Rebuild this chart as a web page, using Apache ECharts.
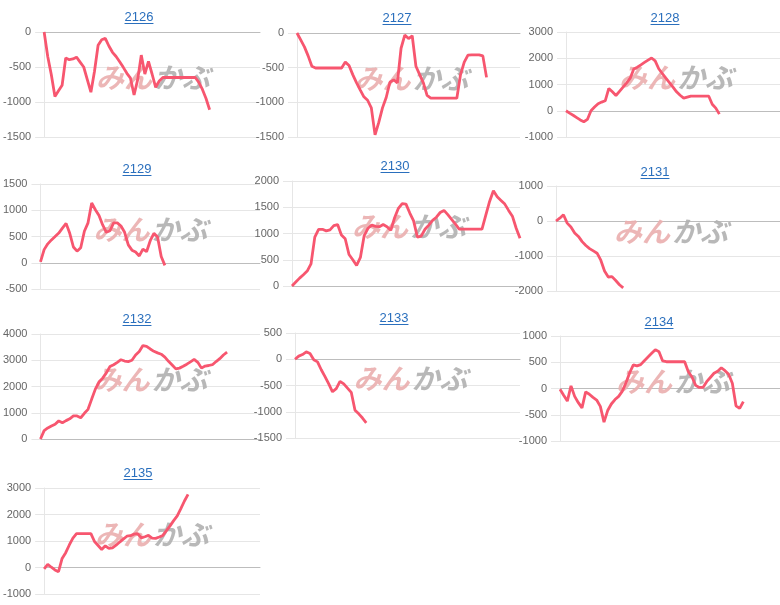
<!DOCTYPE html>
<html>
<head>
<meta charset="utf-8">
<script src="https://cdn.jsdelivr.net/npm/echarts@6/dist/echarts.min.js"></script>
<style>
html, body { margin: 0; padding: 0; background: #fff; }
#chart { width: 780px; height: 605px; }
</style>
</head>
<body>
<div id="chart"></div>
<script>
// Axe des x commun : jours de la période (pas de libellés affichés)
const days = Array.from({ length: 61 }, (_, i) => String(i + 1));

const names = ['2126', '2127', '2128', '2129', '2130', '2131', '2132', '2133', '2134', '2135'];

// Valeurs
const s2126 = [0, -350, -610, -920, -840, -760, -370, -395, -385, -360, -430, -500, -680, -860, -560, -190, -110, -90, -200, -290,
    -350, -425, -505, -590, -660, -900, -680, -330, -600, -420, -600, -790, -700, -650, -650, -650, -650, -650, -650, -650,
    -650, -650, -650, -720, -820, -950, -1110];
const s2127 = [0, -100, -200, -330, -480, -505, -505, -505, -505, -505, -505, -505, -505, -420, -470, -600, -715, -820, -920, -970,
    -1080, -1470, -1290, -1080, -930, -710, -675, -720, -220, -30, -80, -40, -480, -600, -720, -900, -940, -940, -940, -940,
    -940, -940, -940, -940, -600, -420, -320, -315, -315, -315, -330, -640];
const s2128 = [0, -90, -170, -260, -350, -420, -330, 0, 140, 270, 330, 380, 850, 720, 580, 740, 900, 1060, 1240, 1590,
    1660, 1750, 1840, 1930, 2010, 1900, 1600, 1420, 1240, 1070, 900, 720, 590, 480, 520, 560, 560, 560, 560, 560,
    560, 250, 100, -130];
const s2129 = [15, 250, 360, 435, 500, 565, 660, 750, 560, 300, 220, 285, 600, 760, 1140, 1010, 900, 720, 580, 610,
    760, 760, 700, 580, 340, 240, 205, 130, 260, 210, 420, 560, 490, 120, -50];
const s2130 = [0, 75, 150, 215, 285, 420, 930, 1080, 1080, 1050, 1070, 1150, 1170, 970, 900, 600, 500, 390, 545, 960,
    1100, 1160, 1135, 1130, 1170, 1130, 1060, 1300, 1480, 1570, 1560, 1390, 1240, 930, 950, 1080, 1160, 1250, 1310, 1400,
    1440, 1360, 1270, 1180, 1085, 1085, 1085, 1085, 1085, 1085, 1085, 1350, 1610, 1815, 1700, 1630, 1560, 1440, 1330, 1100,
    910];
const s2131 = [0, 80, 180, -60, -170, -340, -440, -590, -700, -790, -855, -920, -1120, -1430, -1600, -1590, -1700, -1820, -1910];
const s2132 = [0, 320, 420, 495, 560, 690, 620, 700, 770, 880, 880, 810, 980, 1130, 1520, 1900, 2170, 2320, 2520, 2760,
    2830, 2920, 3020, 2970, 2950, 3000, 3200, 3330, 3560, 3530, 3430, 3340, 3280, 3230, 3120, 2960, 2820, 2670, 2700, 2770,
    2850, 2940, 3035, 2920, 2700, 2780, 2800, 2830, 2950, 3060, 3200, 3310];
const s2133 = [0, 60, 90, 140, 110, -10, -50, -200, -330, -470, -620, -560, -420, -470, -550, -630, -970, -1040, -1120, -1210];
const s2134 = [-15, -130, -240, 50, -150, -270, -370, -65, -110, -170, -220, -340, -640, -420, -295, -210, -150, -50, 110, 300,
    450, 430, 455, 530, 600, 670, 740, 700, 525, 510, 510, 510, 510, 510, 510, 320, 220, 60, 20, 20,
    130, 210, 290, 330, 395, 340, 270, 100, -330, -380, -250];
const s2135 = [-50, 120, 10, -90, -160, 340, 560, 850, 1110, 1280, 1280, 1280, 1280, 1280, 980, 830, 680, 820, 720, 740,
    840, 960, 1070, 1180, 1200, 1260, 1280, 1120, 1160, 1210, 1110, 1100, 1150, 1210, 1390, 1570, 1770, 1950, 2220, 2510,
    2760];

// Graduations de l'axe des y
const y2126 = [-1500, -1000, -500, 0];
const y2127 = [-1500, -1000, -500, 0];
const y2128 = [-1000, 0, 1000, 2000, 3000];
const y2129 = [-500, 0, 500, 1000, 1500];
const y2130 = [0, 500, 1000, 1500, 2000];
const y2131 = [-2000, -1000, 0, 1000];
const y2132 = [0, 1000, 2000, 3000, 4000];
const y2133 = [-1500, -1000, -500, 0, 500];
const y2134 = [-1000, -500, 0, 500, 1000];
const y2135 = [-1000, 0, 1000, 2000, 3000];

const seriesData = [s2126, s2127, s2128, s2129, s2130, s2131, s2132, s2133, s2134, s2135];
const yTicks = [y2126, y2127, y2128, y2129, y2130, y2131, y2132, y2133, y2134, y2135];

// Mise en page : [gauche, haut, largeur, hauteur] de chaque zone, puis position du titre
const boxes = [
    [40, 32, 220, 105], [297, 33, 223, 104], [566, 32, 214, 105],
    [35, 184, 225, 105], [292, 181, 228, 105], [556, 186, 224, 105],
    [35, 334, 225, 105], [295, 333, 225, 105], [560, 336, 220, 105],
    [38, 488, 222, 106]
];
const titlePos = [
    [139, 17], [397, 18], [665, 18],
    [137, 169], [395, 166], [655, 172],
    [137, 319], [394, 318], [659, 322],
    [138, 473]
];

const titleFont = '13px "Liberation Sans", Arial, sans-serif';
const titleColor = '#2a6fbd';
const lineColor = '#f7566f';
const gridColor = '#e6e6e6';

const ctx = document.createElement('canvas').getContext('2d');
ctx.font = titleFont;

const graphics = [];
names.forEach((name, i) => {
    const [tx, ty] = titlePos[i];
    const w = ctx.measureText(name).width;
    graphics.push({
        type: 'text', x: tx, y: ty, z: 10,
        style: { text: name, font: titleFont, fill: titleColor, textAlign: 'center', textVerticalAlign: 'middle', align: 'center', verticalAlign: 'middle' }
    });
    graphics.push({
        type: 'line', z: 10,
        shape: { x1: tx - w / 2, y1: ty + 6.5, x2: tx + w / 2, y2: ty + 6.5 },
        style: { stroke: titleColor, lineWidth: 1 }
    });
    // filigrane
    const [l, t, bw, bh] = boxes[i];
    const cx = l + bw / 2 + 2;
    const cy = t + bh / 2 - 7;
    const wmFont = 'italic bold 28px "Noto Sans CJK JP", sans-serif';
    graphics.push({
        type: 'text', x: cx, y: cy, z: 1,
        style: { text: 'みん', font: wmFont, fill: '#eaaeae', opacity: 0.9, textAlign: 'right', textVerticalAlign: 'middle', align: 'right', verticalAlign: 'middle' }
    });
    graphics.push({
        type: 'text', x: cx + 2, y: cy, z: 1,
        style: { text: 'かぶ', font: wmFont, fill: '#b0b0b0', opacity: 0.9, textAlign: 'left', textVerticalAlign: 'middle', align: 'left', verticalAlign: 'middle' }
    });
});

const option = {
    animation: false,
    backgroundColor: '#fff',
    graphic: graphics,
    grid: boxes.map(b => ({ left: b[0], top: b[1], width: b[2], height: b[3] })),
    xAxis: names.map((n, i) => ({
        type: 'category',
        gridIndex: i,
        data: days,
        boundaryGap: false,
        axisLabel: { show: false },
        axisTick: { show: false },
        splitLine: { show: false },
        axisLine: { onZero: true, lineStyle: { color: '#bdbdbd', width: 1 } }
    })),
    yAxis: yTicks.map((ticks, i) => ({
        type: 'value',
        gridIndex: i,
        min: ticks[0],
        max: ticks[ticks.length - 1],
        interval: ticks[1] - ticks[0],
        axisLine: { show: true, lineStyle: { color: gridColor } },
        axisTick: { show: true, length: 9, lineStyle: { color: gridColor } },
        splitLine: { show: true, lineStyle: { color: gridColor } },
        axisLabel: {
            color: '#666', fontSize: 11, margin: 13,
            fontFamily: '"Liberation Sans", Arial, sans-serif',
            formatter: v => String(v)
        }
    })),
    series: seriesData.map((data, i) => ({
        name: names[i],
        type: 'line',
        xAxisIndex: i,
        yAxisIndex: i,
        data: data,
        symbol: 'none',
        z: 5,
        lineStyle: { color: lineColor, width: 2.8 }
    }))
};

const chart = echarts.init(document.getElementById('chart'));
chart.setOption(option);
</script>
</body>
</html>
